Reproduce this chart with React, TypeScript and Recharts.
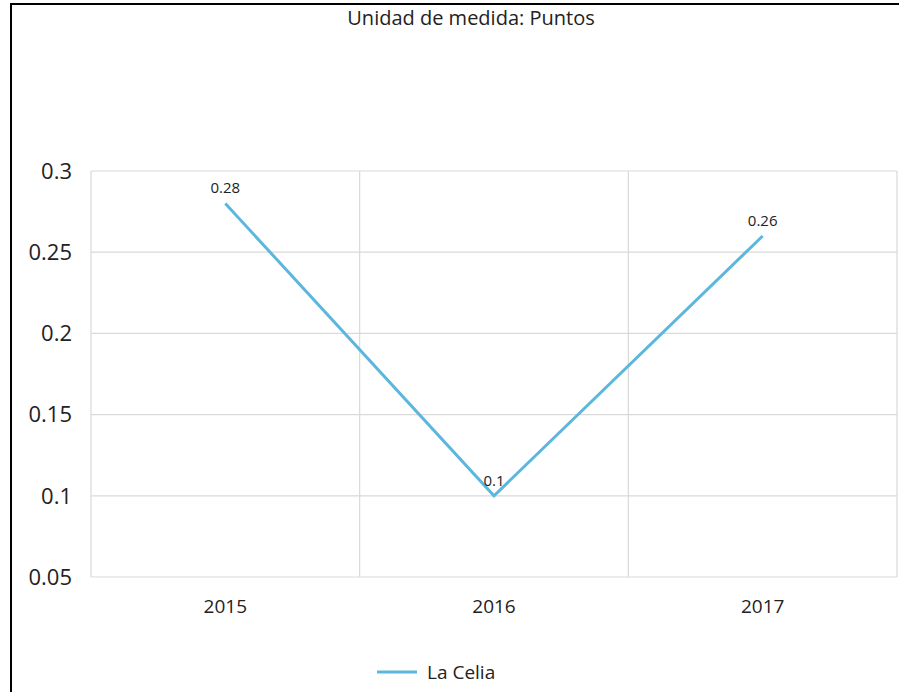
import {
  LineChart,
  Line,
  XAxis,
  YAxis,
  CartesianGrid,
  Legend,
  LabelList,
} from "recharts";

const YEARS = ["2015", "2016", "2017"];
const LA_CELIA = [0.28, 0.1, 0.26];
const Y_TICKS = [0.05, 0.1, 0.15, 0.2, 0.25, 0.3];
const SERIES_NAME = "La Celia";
const SUBTITLE = "Unidad de medida: Puntos";

const LINE_COLOR = "#5bb7de";
const GRID_COLOR = "#d9d9d9";
const FONT = "'Open Sans', 'Noto Sans', sans-serif";

// each year sits in the middle of its own category slot, like an Excel category axis
const data = YEARS.map((year, i) => ({ slot: i + 0.5, year, value: LA_CELIA[i] }));
const SLOT_CENTERS = data.map((d) => d.slot);
const SLOT_BOUNDS = Array.from({ length: YEARS.length + 1 }, (_, i) => i);
const yearAt = (slot: number) => YEARS[Math.floor(slot)] ?? "";

function LegendContent() {
  return (
    <div style={{ display: "flex", alignItems: "center", fontFamily: FONT }}>
      <svg width={40} height={4} style={{ marginRight: 10 }}>
        <line x1={0} y1={2} x2={40} y2={2} stroke={LINE_COLOR} strokeWidth={3} />
      </svg>
      <span style={{ fontSize: 19, color: "#222" }}>{SERIES_NAME}</span>
    </div>
  );
}

export default function App() {
  return (
    <div
      style={{
        position: "fixed",
        left: 0,
        top: 0,
        width: 899,
        height: 692,
        overflow: "hidden",
        background: "#fff",
        fontFamily: FONT,
      }}
    >
      {/* outer frame, runs off the right and bottom edges */}
      <div
        style={{
          position: "absolute",
          left: 10,
          top: 3,
          width: 2000,
          height: 2000,
          border: "2px solid #000",
          boxSizing: "border-box",
        }}
      />
      <div
        style={{
          position: "absolute",
          left: 0,
          width: 942,
          top: 6,
          textAlign: "center",
          fontSize: 20,
          color: "#222",
          lineHeight: "24px",
        }}
      >
        {SUBTITLE}
      </div>
      <div style={{ position: "absolute", left: 0, top: 0 }}>
        <LineChart
          width={899}
          height={692}
          data={data}
          margin={{ top: 171, right: 2, left: 0, bottom: 85 }}
        >
          {/* vertical lines sit on the slot boundaries */}
          <CartesianGrid
            stroke={GRID_COLOR}
            strokeWidth={1.2}
            verticalValues={SLOT_BOUNDS}
          />
          <XAxis
            dataKey="slot"
            type="number"
            domain={[0, YEARS.length]}
            ticks={SLOT_CENTERS}
            tickFormatter={yearAt}
            allowDataOverflow
            axisLine={false}
            tickLine={false}
            tickMargin={17}
            tick={{ fill: "#222", fontSize: 19, fontFamily: FONT }}
          />
          <YAxis
            domain={[0.05, 0.3]}
            ticks={Y_TICKS}
            width={91}
            axisLine={false}
            tickLine={false}
            tickMargin={13}
            tick={{ fill: "#222", fontSize: 22, fontFamily: FONT }}
          />
          <Legend
            verticalAlign="middle"
            content={<LegendContent />}
            wrapperStyle={{ left: 377, top: 659, width: "auto" }}
          />
          <Line
            type="linear"
            dataKey="value"
            name={SERIES_NAME}
            stroke={LINE_COLOR}
            strokeWidth={3}
            dot={false}
            isAnimationActive={false}
          >
            <LabelList
              dataKey="value"
              position="top"
              offset={10}
              style={{ fill: "#222", fontSize: 15, fontFamily: FONT }}
            />
          </Line>
        </LineChart>
      </div>
    </div>
  );
}
